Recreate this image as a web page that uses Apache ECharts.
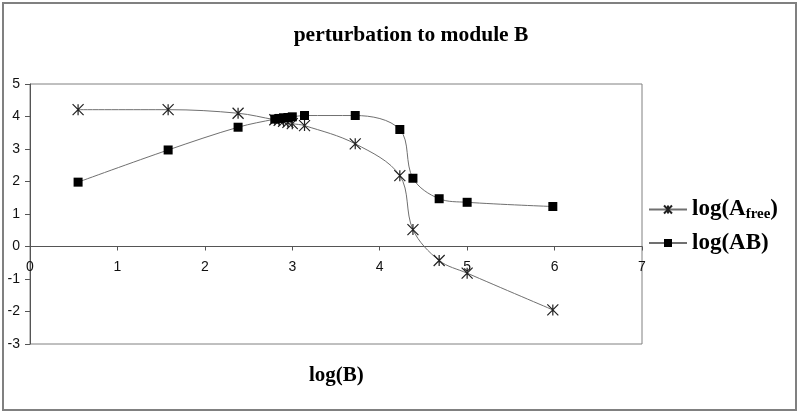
<!DOCTYPE html>
<html>
<head>
<meta charset="utf-8">
<script src="https://cdn.jsdelivr.net/npm/echarts@6/dist/echarts.min.js"></script>
<style>html,body{margin:0;padding:0;background:#fff}#c{width:800px;height:414px}</style>
</head>
<body>
<div id="c"></div>
<script>
var logB = [0.55, 1.58, 2.38, 2.8, 2.85, 2.9, 2.95, 3.0, 3.14, 3.72, 4.23, 4.38, 4.68, 5.0, 5.98];
var logAfree = [4.21, 4.21, 4.1, 3.9, 3.88, 3.85, 3.82, 3.78, 3.72, 3.16, 2.18, 0.52, -0.43, -0.82, -1.95];
var logAB = [1.98, 2.97, 3.67, 3.92, 3.94, 3.96, 3.97, 3.99, 4.03, 4.03, 3.6, 2.1, 1.47, 1.36, 1.23];
var xTicks = {min: 0, max: 7, interval: 1};
var yTicks = {min: -3, max: 5, interval: 1};

function pairs(xs, ys) { return xs.map(function (x, i) { return [x, ys[i]]; }); }

var star = 'path://M5,0L5,10M0,0L10,10M0,10L10,0';
var chart = echarts.init(document.getElementById('c'));
chart.setOption({
  backgroundColor: '#fff',
  animation: false,
  title: {
    text: 'perturbation to module B',
    left: 406, top: 19, textAlign: 'center',
    textStyle: {fontFamily: 'Liberation Serif', fontWeight: 'bold', fontSize: 21.5, color: '#000'}
  },
  graphic: [{
    type: 'rect', shape: {x: 3, y: 3, width: 793, height: 407},
    style: {fill: 'none', stroke: '#808080', lineWidth: 2}, silent: true
  }, {
    type: 'text', left: 309, top: 365,
    style: {text: 'log(B)', font: 'bold 21px "Liberation Serif"', fill: '#000'}
  }],
  grid: {left: 30, right: 158, top: 84, bottom: 70, show: true, borderColor: '#808080', borderWidth: 1, containLabel: false},
  legend: {
    orient: 'vertical', left: 643, top: 193, itemGap: 10, itemWidth: 38, itemHeight: 10,
    data: ['log(A_free)', 'log(AB)'],
    formatter: function (n) {
      if (n === 'log(A_free)') return '{a|log(A}{s|free}{a|)}';
      return '{a|' + n + '}';
    },
    textStyle: {
      rich: {
        a: {fontFamily: 'Liberation Serif', fontWeight: 'bold', fontSize: 23, color: '#000'},
        s: {fontFamily: 'Liberation Serif', fontWeight: 'bold', fontSize: 15, color: '#000', verticalAlign: 'bottom', padding: [9, 0, 0, 0]}
      }
    }
  },
  xAxis: {
    type: 'value', min: xTicks.min, max: xTicks.max, interval: xTicks.interval,
    axisLine: {onZero: true, lineStyle: {color: '#555'}},
    axisTick: {show: true, length: 4, lineStyle: {color: '#555'}},
    axisLabel: {margin: -84, color: '#111', fontFamily: 'Liberation Sans', fontSize: 14},
    splitLine: {show: false}
  },
  yAxis: {
    type: 'value', min: yTicks.min, max: yTicks.max, interval: yTicks.interval,
    axisLine: {show: true, onZero: false, lineStyle: {color: '#555'}},
    axisTick: {show: true, length: 5, lineStyle: {color: '#555'}},
    axisLabel: {margin: 10, color: '#111', fontFamily: 'Liberation Sans', fontSize: 14},
    splitLine: {show: false}
  },
  series: [{
    name: 'log(A_free)', type: 'line', smooth: 0.35,
    data: pairs(logB, logAfree),
    symbol: star, symbolSize: 11, symbolKeepAspect: true,
    lineStyle: {color: '#707070', width: 1},
    itemStyle: {color: 'none', borderColor: '#222', borderWidth: 1.2}
  }, {
    name: 'log(AB)', type: 'line', smooth: 0.35,
    data: pairs(logB, logAB),
    symbol: 'rect', symbolSize: 9,
    lineStyle: {color: '#707070', width: 1},
    itemStyle: {color: '#000', borderColor: '#000', borderWidth: 0}
  }]
});
</script>
</body>
</html>
